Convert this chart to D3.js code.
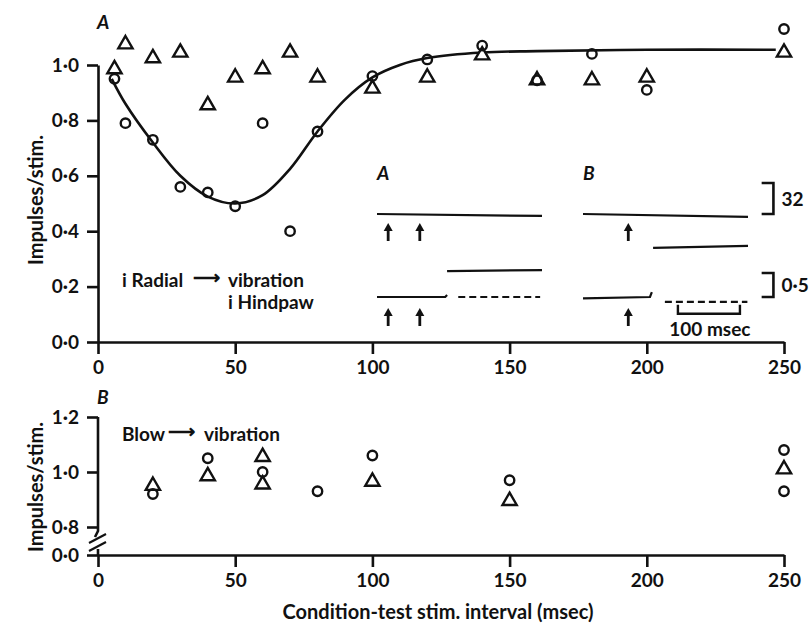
<!DOCTYPE html>
<html>
<head>
<meta charset="UTF-8">
<title>Impulses/stim.</title>
<script src="https://cdn.jsdelivr.net/npm/d3@7"></script>
<style>
  body { margin: 0; padding: 0; background: #fff; }
  text { font-family: Lato, "Open Sans", sans-serif; fill: #111; }
</style>
</head>
<body>
<script>
var w = 812, h = 628;

// panel A : i Radial -> vibration, i Hindpaw
var topCircleX = [6, 10, 20, 30, 40, 50, 60, 70, 80, 100, 120, 140, 160, 180, 200, 250];
var topCircleY = [0.95, 0.79, 0.73, 0.56, 0.54, 0.49, 0.79, 0.40, 0.76, 0.96, 1.02, 1.07, 0.945, 1.04, 0.91, 1.13];
var topTriX = [6, 10, 20, 30, 40, 50, 60, 70, 80, 100, 120, 140, 160, 180, 200, 250];
var topTriY = [0.985, 1.075, 1.025, 1.045, 0.855, 0.955, 0.985, 1.045, 0.955, 0.915, 0.955, 1.035, 0.945, 0.945, 0.955, 1.045];
// hand fitted curve through the circles
var fitX = [5, 10, 20, 30, 40, 50, 60, 70, 80, 90, 100, 110, 120, 140, 160, 200, 247];
var fitY = [0.95, 0.86, 0.72, 0.60, 0.525, 0.50, 0.53, 0.625, 0.76, 0.875, 0.955, 1.0, 1.025, 1.045, 1.05, 1.055, 1.055];

// panel B : Blow -> vibration
var botCircleX = [20, 40, 60, 80, 100, 150, 250, 250];
var botCircleY = [0.92, 1.05, 1.0, 0.93, 1.06, 0.97, 1.08, 0.93];
var botTriX = [20, 40, 60, 60, 100, 150, 250];
var botTriY = [0.95, 0.985, 1.055, 0.955, 0.965, 0.895, 1.01];

var xTicks = [0, 50, 100, 150, 200, 250];
var topYTicks = [0, 0.2, 0.4, 0.6, 0.8, 1.0];
var botYTicks = [0, 0.8, 1.0, 1.2];

// inset records (time in msec, level in trace units)
var traces = [
  {panel: "A", row: "up", dash: false, pts: [[0, 0], [266, -2]]},
  {panel: "A", row: "lo", dash: false, pts: [[113, 0.54], [266, 0.56]]},
  {panel: "A", row: "lo", dash: false, pts: [[0, 0], [110, 0], [113, 0.04]]},
  {panel: "A", row: "lo", dash: true,  pts: [[131, 0], [263, 0]]},
  {panel: "B", row: "up", dash: false, pts: [[0, 0], [266, -3]]},
  {panel: "B", row: "up", dash: false, pts: [[113, -35], [266, -33]]},
  {panel: "B", row: "lo", dash: false, pts: [[0, -0.03], [108, 0], [111, 0.1]]},
  {panel: "B", row: "lo", dash: true,  pts: [[132, -0.1], [265, -0.1]]}
];
var arrows = [
  {panel: "A", row: "up", t: 18}, {panel: "A", row: "up", t: 69},
  {panel: "A", row: "lo", t: 18}, {panel: "A", row: "lo", t: 69},
  {panel: "B", row: "up", t: 73}, {panel: "B", row: "lo", t: 73}
];

var svg = d3.select("body").append("svg")
  .attr("width", w)
  .attr("height", h)
  .style("background", "#fff");

var x = d3.scaleLinear().domain([0, 250]).range([98, 784]);
var yTop = d3.scaleLinear().domain([0, 1]).range([342, 65]);
var yBot = d3.scaleLinear().domain([0, 0.8, 1.2]).range([555, 527, 417]);

function fmt(d) { return d3.format(".1f")(d).replace(".", "\u00b7"); }

function styleAxis(g) {
  g.selectAll("path, line").attr("stroke", "#111").attr("stroke-width", 2.6);
  g.selectAll("text")
    .style("font-family", "Lato, 'Open Sans', sans-serif")
    .style("font-size", "19px")
    .style("font-weight", "bold")
    .attr("fill", "#111");
}

// ---- top panel axes
svg.append("g")
  .attr("transform", "translate(0," + yTop(0) + ")")
  .call(d3.axisBottom(x).tickValues(xTicks).tickSize(12).tickSizeOuter(0).tickPadding(7))
  .call(styleAxis);
svg.append("g")
  .attr("transform", "translate(" + x(0) + ",0)")
  .call(d3.axisLeft(yTop).tickValues(topYTicks).tickFormat(fmt).tickSize(11).tickSizeOuter(0).tickPadding(8))
  .call(styleAxis);

// ---- bottom panel axes
svg.append("g")
  .attr("transform", "translate(0," + yBot(0) + ")")
  .call(d3.axisBottom(x).tickValues(xTicks).tickSize(12).tickSizeOuter(0).tickPadding(7))
  .call(styleAxis);
var gyb = svg.append("g")
  .attr("transform", "translate(" + x(0) + ",0)")
  .call(d3.axisLeft(yBot).tickValues(botYTicks).tickFormat(fmt).tickSize(11).tickSizeOuter(0).tickPadding(8))
  .call(styleAxis);
gyb.select(".domain").remove();
// broken axis
var brk = yBot(0.8);
gyb.append("path")
  .attr("d", "M0," + yBot(1.2) + "V" + (brk + 4) + "L-3," + (brk + 10))
  .attr("fill", "none").attr("stroke", "#111").attr("stroke-width", 2.6);
gyb.append("path")
  .attr("d", "M0," + (yBot(0) - 6) + "V" + yBot(0))
  .attr("fill", "none").attr("stroke", "#111").attr("stroke-width", 2.6);
[brk + 12, brk + 20].forEach(function (yy) {
  gyb.append("line")
    .attr("x1", -9).attr("y1", yy + 4).attr("x2", 8).attr("y2", yy - 5)
    .attr("stroke", "#111").attr("stroke-width", 2.2);
});

// ---- fitted curve
var fit = fitX.map(function (d, i) { return [d, fitY[i]]; });
svg.append("path")
  .datum(fit)
  .attr("d", d3.line()
    .x(function (d) { return x(d[0]); })
    .y(function (d) { return yTop(d[1]); })
    .curve(d3.curveCatmullRom))
  .attr("fill", "none").attr("stroke", "#111").attr("stroke-width", 2.6);

// ---- markers
var tri = d3.symbol().type(d3.symbolTriangle).size(88);
function drawTri(xs, ys, yScale) {
  svg.append("g").selectAll("path")
    .data(xs.map(function (d, i) { return [d, ys[i]]; }))
    .join("path")
    .attr("d", tri)
    .attr("transform", function (d) { return "translate(" + x(d[0]) + "," + yScale(d[1]) + ")"; })
    .attr("fill", "#fff").attr("stroke", "#111").attr("stroke-width", 2.4)
    .attr("stroke-linejoin", "miter");
}
function drawCirc(xs, ys, yScale) {
  svg.append("g").selectAll("circle")
    .data(xs.map(function (d, i) { return [d, ys[i]]; }))
    .join("circle")
    .attr("cx", function (d) { return x(d[0]); })
    .attr("cy", function (d) { return yScale(d[1]); })
    .attr("r", 4.7)
    .attr("fill", "none").attr("stroke", "#111").attr("stroke-width", 2.4);
}
drawTri(topTriX, topTriY, yTop);
drawCirc(topCircleX, topCircleY, yTop);
drawTri(botTriX, botTriY, yBot);
drawCirc(botCircleX, botCircleY, yBot);

// ---- texts
function label(tx, ty, s, size, weight, style, anchor) {
  return svg.append("text")
    .attr("x", tx).attr("y", ty)
    .attr("text-anchor", anchor || "start")
    .style("font-size", size + "px")
    .style("font-weight", weight || "normal")
    .style("font-style", style || "normal")
    .text(s);
}
label(97, 29, "A", 19, "bold", "italic");
label(97, 404, "B", 19, "bold", "italic");

svg.append("text")
  .attr("transform", "translate(43,200) rotate(-90)")
  .attr("text-anchor", "middle")
  .style("font-size", "20px").style("font-weight", "bold")
  .text("Impulses/stim.");
svg.append("text")
  .attr("transform", "translate(43,487) rotate(-90)")
  .attr("text-anchor", "middle")
  .style("font-size", "20px").style("font-weight", "bold")
  .text("Impulses/stim.");
label(438, 619, "Condition-test stim. interval (msec)", 20, "bold", "normal", "middle");

label(122, 287, "i Radial", 19, "bold");
label(193, 284, "\u27f6", 19, "bold");
label(228, 287, "vibration", 19, "bold");
label(228, 309, "i Hindpaw", 19, "bold");
label(122, 441, "Blow", 19, "bold");
label(168, 438, "\u27f6", 19, "bold");
label(204, 441, "vibration", 19, "bold");

// ---- insets
var tA = d3.scaleLinear().domain([0, 266]).range([377, 542]);
var tB = d3.scaleLinear().domain([0, 266]).range([583, 748]);
var vUp = d3.scaleLinear().domain([0, 32]).range([214, 183]);
var vLo = d3.scaleLinear().domain([0, 0.5]).range([297, 273]);
function ts(p) { return p === "A" ? tA : tB; }
function vs(r) { return r === "up" ? vUp : vLo; }

label(377, 180, "A", 19, "bold", "italic");
label(583, 180, "B", 19, "bold", "italic");

traces.forEach(function (tr) {
  svg.append("path")
    .datum(tr.pts)
    .attr("d", d3.line()
      .x(function (d) { return ts(tr.panel)(d[0]); })
      .y(function (d) { return vs(tr.row)(d[1]); }))
    .attr("fill", "none").attr("stroke", "#111").attr("stroke-width", 2.2)
    .attr("stroke-dasharray", tr.dash ? "7,4" : null);
});

arrows.forEach(function (a) {
  var ax = ts(a.panel)(a.t), ay = vs(a.row)(0) + (a.row === "up" ? 9 : 11);
  svg.append("line")
    .attr("x1", ax).attr("y1", ay + 5).attr("x2", ax).attr("y2", ay + 18)
    .attr("stroke", "#111").attr("stroke-width", 2.8);
  svg.append("path")
    .attr("d", "M" + ax + "," + ay + "L" + (ax - 4.5) + "," + (ay + 8) + "L" + (ax + 4.5) + "," + (ay + 8) + "Z")
    .attr("fill", "#111");
});

// scale bar 100 msec
var sb0 = tB(153), sb1 = tB(253), sby = vLo(-0.35);
svg.append("path")
  .attr("d", "M" + sb0 + "," + (sby - 9) + "V" + sby + "H" + sb1 + "V" + (sby - 9))
  .attr("fill", "none").attr("stroke", "#111").attr("stroke-width", 2.4);
label((sb0 + sb1) / 2 + 1, sby + 22, "100 msec", 19, "bold", "normal", "middle");

// calibration brackets
function bracket(vscale, v0, v1, txt) {
  var bx0 = tB(288), bx1 = tB(307);
  svg.append("path")
    .attr("d", "M" + bx0 + "," + vscale(v1) + "H" + bx1 + "V" + vscale(v0) + "H" + bx0)
    .attr("fill", "none").attr("stroke", "#111").attr("stroke-width", 2.6);
  label(bx1 + 8, (vscale(v0) + vscale(v1)) / 2 + 7, txt, 19, "bold");
}
bracket(vUp, 0, 32, "32");
bracket(vLo, 0, 0.5, "0\u00b75");
</script>
</body>
</html>
